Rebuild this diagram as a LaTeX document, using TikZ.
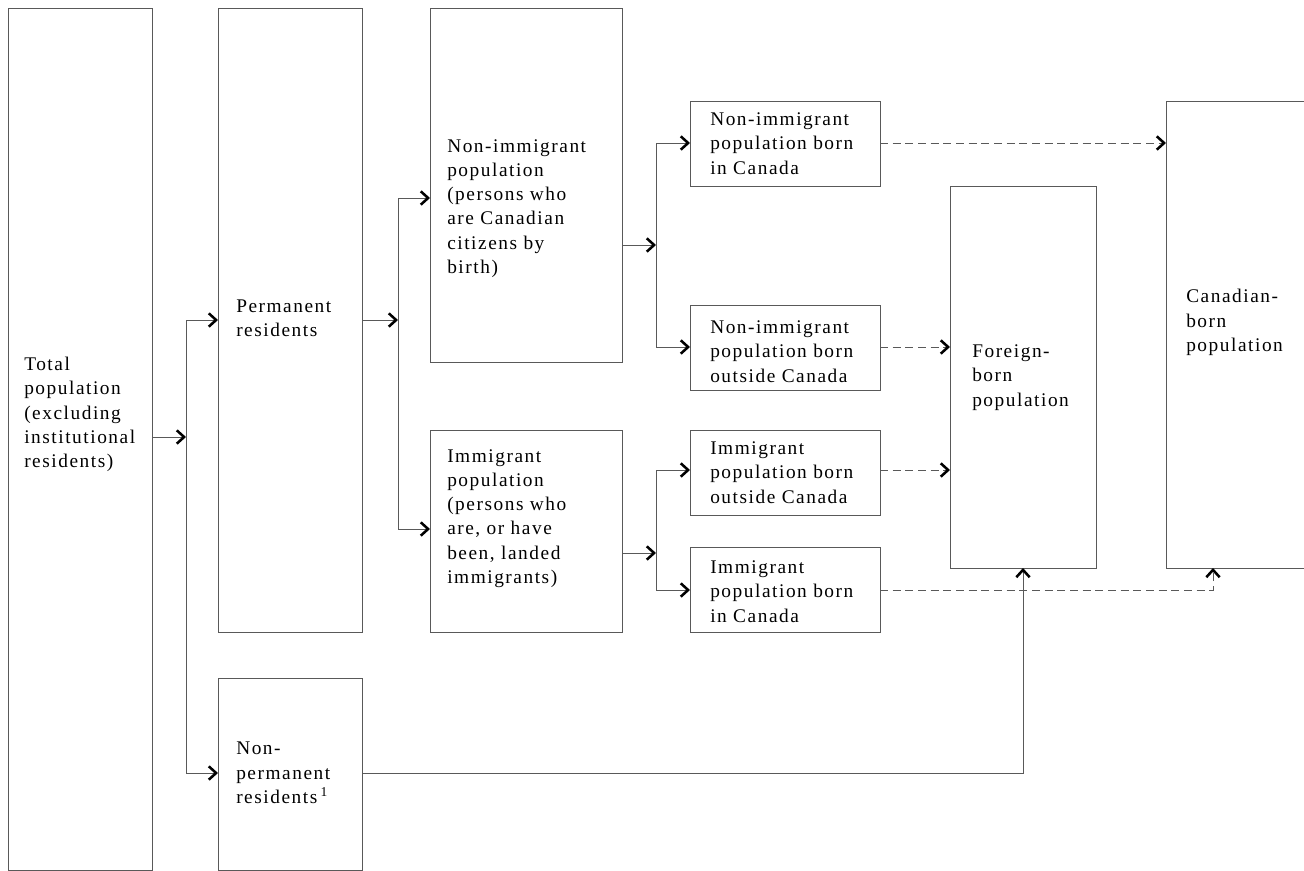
\documentclass[tikz,border=0pt]{standalone}
\usepackage{fontspec}
\newfontfamily\lblfont[LetterSpace=8]{Liberation Serif}
\usetikzlibrary{arrows.meta}
\definecolor{linec}{gray}{0.35}
\tikzset{
  box/.style={draw=linec, line width=0.75pt, inner sep=0pt, outer sep=0pt},
  lbl/.style={align=left, anchor=west, inner sep=0pt,
    font=\lblfont\fontsize{14.5}{18.2}\selectfont},
  conn/.style={draw=linec, line width=0.75pt},
  arr/.style={conn, -{Straight Barb[length=5.5pt,width=10pt,line width=1.9pt,color=black]}},
  darr/.style={arr, dash pattern=on 6pt off 3.5pt},
  dline/.style={conn, dash pattern=on 6pt off 3.5pt}
}
\begin{document}
\begin{tikzpicture}[x=0.75pt,y=-0.75pt]
\useasboundingbox (0,0) rectangle (1304,871);
\clip (0,0) rectangle (1304,871);
% boxes
\node[box, minimum width=108pt, minimum height=646.5pt] (tp) at (80,439) {};
\node[box, minimum width=108pt, minimum height=468pt] (pr) at (290,320) {};
\node[box, minimum width=108pt, minimum height=144pt] (npr) at (290,774) {};
\node[box, minimum width=144pt, minimum height=265.5pt] (ni) at (526,185) {};
\node[box, minimum width=144pt, minimum height=151.5pt] (im) at (526,531) {};
\node[box, minimum width=142.5pt, minimum height=63.75pt] (nibc) at (785,143.5) {};
\node[box, minimum width=142.5pt, minimum height=63.75pt] (nibo) at (785,347.5) {};
\node[box, minimum width=142.5pt, minimum height=63.75pt] (ibo) at (785,472.5) {};
\node[box, minimum width=142.5pt, minimum height=63.75pt] (ibc) at (785,589.5) {};
\node[box, minimum width=109.5pt, minimum height=286.5pt] (fb) at (1023,377) {};
\node[box, minimum width=160.5pt, minimum height=350.25pt] (cb) at (1273,334.5) {};
% labels
\node[lbl] (tpt) at (24,414.5) {Total\\population\\(excluding\\institutional\\residents)};
\node[lbl] (prt) at (236,318.5) {Permanent\\residents};
\node[lbl] (nprt) at (236,773) {Non-\\permanent\\residents\,\textsuperscript{1}};
\node[lbl] (nit) at (447,208.5) {Non-immigrant\\population\\(persons who\\are Canadian\\citizens by\\birth)};
\node[lbl] (imt) at (447,518.5) {Immigrant\\population\\(persons who\\are, or have\\been, landed\\immigrants)};
\node[lbl] (nibct) at (710,143.5) {Non-immigrant\\population born\\in Canada};
\node[lbl] (nibot) at (710,351.5) {Non-immigrant\\population born\\outside Canada};
\node[lbl] (ibot) at (710,472.5) {Immigrant\\population born\\outside Canada};
\node[lbl] (ibct) at (710,591.5) {Immigrant\\population born\\in Canada};
\node[lbl] (fbt) at (972,377.5) {Foreign-\\born\\population};
\node[lbl] (cbt) at (1186,322.5) {Canadian-\\born\\population};
% junction coordinates
\coordinate (j1) at (186,437);
\coordinate (j1a) at (186,320);
\coordinate (j1b) at (186,773);
\coordinate (j2) at (398,320);
\coordinate (j2a) at (398,198);
\coordinate (j2b) at (398,529);
\coordinate (j3) at (656,245);
\coordinate (j3a) at (656,143);
\coordinate (j3b) at (656,347);
\coordinate (j4) at (656,553);
\coordinate (j4a) at (656,470);
\coordinate (j4b) at (656,590);
\coordinate (c1) at (1023,773);
\coordinate (c2) at (1213,590);
% solid connectors
\draw[arr] (tp.east |- j1) -- (j1);
\draw[conn] (j1a) -- (j1b);
\draw[arr] (j1a) -- (pr.west |- j1a);
\draw[arr] (j1b) -- (npr.west |- j1b);
\draw[arr] (pr.east |- j2) -- (j2);
\draw[conn] (j2a) -- (j2b);
\draw[arr] (j2a) -- (ni.west |- j2a);
\draw[arr] (j2b) -- (im.west |- j2b);
\draw[arr] (ni.east |- j3) -- (j3);
\draw[conn] (j3a) -- (j3b);
\draw[arr] (j3a) -- (nibc.west |- j3a);
\draw[arr] (j3b) -- (nibo.west |- j3b);
\draw[arr] (im.east |- j4) -- (j4);
\draw[conn] (j4a) -- (j4b);
\draw[arr] (j4a) -- (ibo.west |- j4a);
\draw[arr] (j4b) -- (ibc.west |- j4b);
\draw[arr] (npr.east |- c1) -- (c1) -- (fb.south);
% dashed connectors
\draw[darr] (nibc.east |- j3a) -- (cb.west |- j3a);
\draw[darr] (nibo.east |- j3b) -- (fb.west |- j3b);
\draw[darr] (ibo.east |- j4a) -- (fb.west |- j4a);
\draw[darr] (ibc.east |- c2) -- (c2) -- (c2 |- cb.south);
\end{tikzpicture}
\end{document}
